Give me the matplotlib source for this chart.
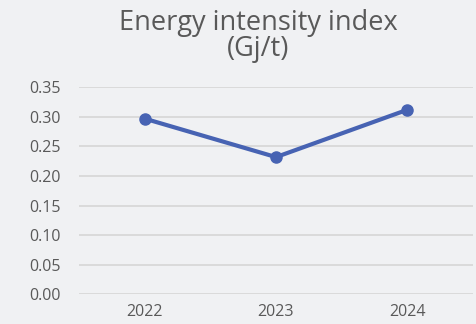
import matplotlib
matplotlib.use("Agg")
import matplotlib.pyplot as plt

years = ["2022", "2023", "2024"]
intensity = [0.297, 0.232, 0.312]
yticks = [0.00, 0.05, 0.10, 0.15, 0.20, 0.25, 0.30, 0.35]

bg = "#f0f1f3"
text_color = "#595959"
line_color = "#4763b3"

plt.rcParams["font.family"] = ["Open Sans", "DejaVu Sans"]

fig = plt.figure(figsize=(4.77, 3.24), dpi=100, facecolor=bg)
ax = fig.add_axes([79 / 477, 1 - 294.3 / 324, (473 - 79) / 477, (294.3 - 87.3) / 324])
ax.set_facecolor(bg)

x = list(range(len(years)))
ax.plot(x, intensity, color=line_color, linewidth=3, marker="o", markersize=8,
        solid_capstyle="round", zorder=3)

ax.set_xlim(-0.5, len(years) - 0.5)
ax.set_ylim(0, 0.35)
ax.set_yticks(yticks)
ax.set_yticklabels([f"{v:.2f}" for v in yticks])
ax.set_xticks(x)
ax.set_xticklabels(years)

ax.grid(axis="y", color="#d6d6d6", linewidth=1.2)
ax.set_axisbelow(True)
for s in ax.spines.values():
    s.set_visible(False)
ax.tick_params(axis="both", length=0, labelsize=11.5, colors=text_color)
ax.tick_params(axis="y", pad=13)
ax.tick_params(axis="x", pad=7)

fig.text(258 / 477, 1 - 36 / 324, "Energy intensity index\n(Gj/t)", ha="center",
         va="center", fontsize=19.5, color=text_color, linespacing=0.95)

fig.savefig("out.png", dpi=100, facecolor=bg)
